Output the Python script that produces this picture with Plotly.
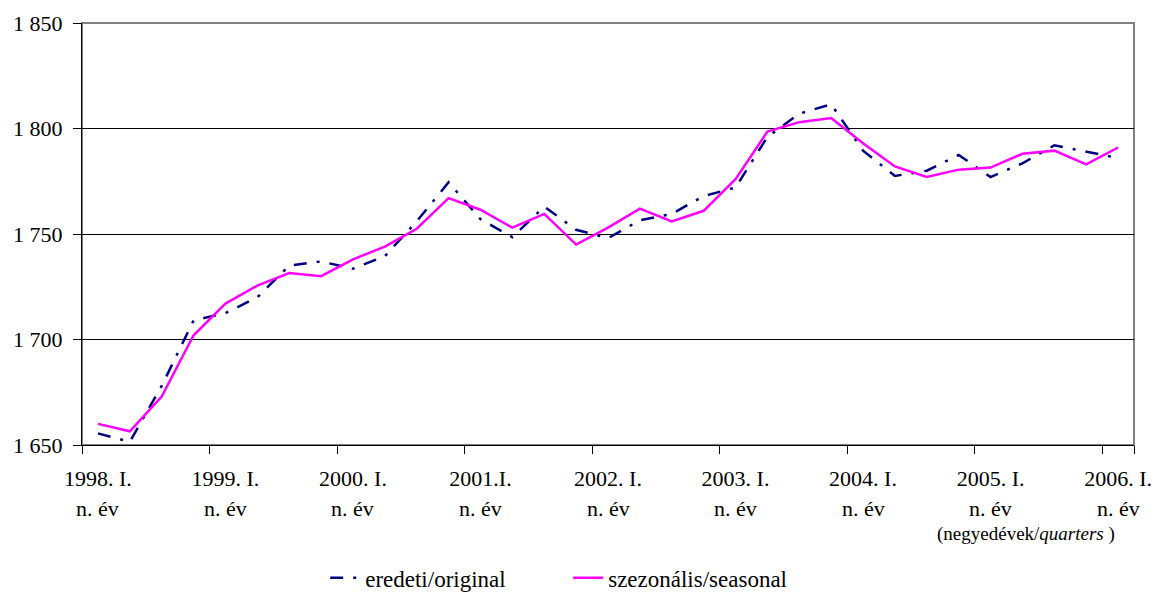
import plotly.graph_objects as go

quarters = [
    "1998 Q1", "1998 Q2", "1998 Q3", "1998 Q4",
    "1999 Q1", "1999 Q2", "1999 Q3", "1999 Q4",
    "2000 Q1", "2000 Q2", "2000 Q3", "2000 Q4",
    "2001 Q1", "2001 Q2", "2001 Q3", "2001 Q4",
    "2002 Q1", "2002 Q2", "2002 Q3", "2002 Q4",
    "2003 Q1", "2003 Q2", "2003 Q3", "2003 Q4",
    "2004 Q1", "2004 Q2", "2004 Q3", "2004 Q4",
    "2005 Q1", "2005 Q2", "2005 Q3", "2005 Q4",
    "2006 Q1",
]

original = [1655.5, 1651.5, 1678, 1709, 1712.5, 1720, 1735, 1737,
            1733.5, 1739.5, 1756, 1774.5, 1757, 1748.5, 1763, 1752,
            1748, 1756.5, 1759.5, 1768, 1772, 1796, 1807, 1811.5,
            1789.5, 1777.5, 1780, 1787.5, 1777, 1783.5, 1792, 1789,
            1786]

seasonal = [1660, 1656.5, 1673, 1702, 1717, 1725.5, 1731.5, 1730,
            1738, 1744, 1752.5, 1767, 1761.5, 1753, 1759.5, 1745,
            1753, 1762, 1756, 1761, 1776, 1798.5, 1803, 1805,
            1793, 1782, 1777, 1780.5, 1781.5, 1788, 1789.5, 1783,
            1791]

tick_quarters = ["1998 Q1", "1999 Q1", "2000 Q1", "2001 Q1", "2002 Q1",
                 "2003 Q1", "2004 Q1", "2005 Q1", "2006 Q1"]
tick_labels = ["1998. I.", "1999. I.", "2000. I.", "2001.I.", "2002. I.",
               "2003. I.", "2004. I.", "2005. I.", "2006. I."]
tick_sub = "n. év"

y_ticks = [1650, 1700, 1750, 1800, 1850]

FONT = "Liberation Serif"
FS = 22

fig = go.Figure()
fig.add_trace(go.Scatter(
    x=quarters, y=original, mode="lines", name="eredeti/original",
    line=dict(color="#000080", width=2.5, dash="13px,10px,3px,10px"),
))
fig.add_trace(go.Scatter(
    x=quarters, y=seasonal, mode="lines", name="szezonális/seasonal",
    line=dict(color="#FF00FF", width=2.5),
))

annotations = [dict(
    text="(negyedévek/<i>quarters</i> )", xref="paper", yref="paper",
    x=0.984, y=-0.212, xanchor="right", yanchor="middle",
    showarrow=False, font=dict(size=19, family=FONT),
)]
for q in tick_quarters:
    annotations.append(dict(
        text=tick_sub, x=q, xref="x", y=-0.150, yref="paper",
        xanchor="center", yanchor="middle", showarrow=False,
        font=dict(size=FS, family=FONT),
    ))

fig.update_layout(
    width=1156, height=595,
    margin=dict(l=82, r=22, t=23, b=150, autoexpand=False),
    paper_bgcolor="white", plot_bgcolor="white",
    font=dict(family=FONT, size=FS, color="black"),
    separators=", ",
    showlegend=True,
    legend=dict(orientation="h", xref="container", yref="container",
                x=0.2813, xanchor="left", y=0.029, yanchor="middle",
                entrywidth=198, entrywidthmode="pixels",
                font=dict(size=23, family=FONT), bgcolor="rgba(0,0,0,0)"),
    annotations=annotations,
    shapes=[dict(type="rect", xref="paper", yref="paper", x0=0, y0=0, x1=1, y1=1,
                 line=dict(color="#808080", width=2), layer="below")],
)

fig.update_xaxes(
    type="category", range=[-0.5, 32.5], automargin=False,
    tickmode="array", tickvals=tick_quarters, ticktext=tick_labels,
    tickson="boundaries", ticks="outside", ticklen=8, tickcolor="black",
    showline=True, linecolor="black", linewidth=1,
    showgrid=False, zeroline=False, tickangle=0, ticklabelstandoff=14,
)
fig.update_yaxes(
    range=[1650, 1850], tickmode="array", tickvals=y_ticks, tickformat=",d",
    automargin=False,
    ticks="outside", ticklen=8, tickcolor="black",
    showline=True, linecolor="black", linewidth=1,
    showgrid=True, gridcolor="black", gridwidth=1, zeroline=False,
    ticklabelstandoff=6,
)

fig.write_html(
    "out.html",
    config={"displayModeBar": False},
    post_script="document.body.style.margin='0';document.body.style.overflow='hidden';",
)
